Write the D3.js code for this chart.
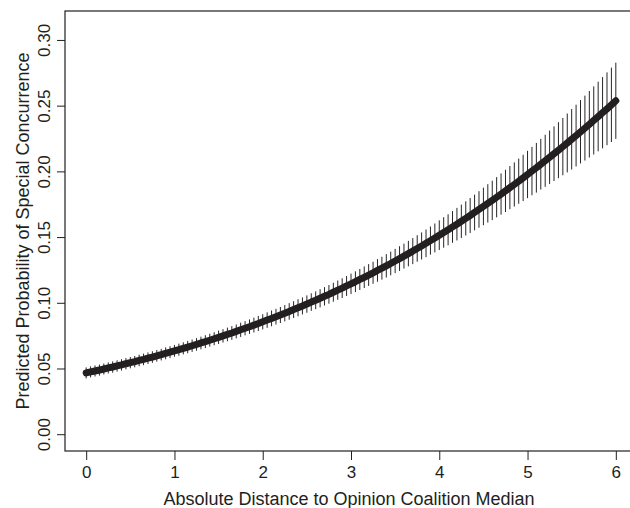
<!DOCTYPE html>
<html>

<head>
    <meta charset="utf-8">
    <title>Predicted Probability of Special Concurrence</title>
    <style>
        body { margin: 0; background: #fff; }
        text { font-family: "Liberation Sans", Arial, Helvetica, sans-serif; fill: #231f20; }
    </style>
</head>

<body>

<main></main>

<script src="https://cdn.jsdelivr.net/npm/d3@7/dist/d3.min.js"></script>
<script>
    // distance values (x), predicted probability and half width of the interval
    var distance = [
        0.00, 0.05, 0.10, 0.15, 0.20, 0.25, 0.30, 0.35, 0.40, 0.45,
        0.50, 0.55, 0.60, 0.65, 0.70, 0.75, 0.80, 0.85, 0.90, 0.95,
        1.00, 1.05, 1.10, 1.15, 1.20, 1.25, 1.30, 1.35, 1.40, 1.45,
        1.50, 1.55, 1.60, 1.65, 1.70, 1.75, 1.80, 1.85, 1.90, 1.95,
        2.00, 2.05, 2.10, 2.15, 2.20, 2.25, 2.30, 2.35, 2.40, 2.45,
        2.50, 2.55, 2.60, 2.65, 2.70, 2.75, 2.80, 2.85, 2.90, 2.95,
        3.00, 3.05, 3.10, 3.15, 3.20, 3.25, 3.30, 3.35, 3.40, 3.45,
        3.50, 3.55, 3.60, 3.65, 3.70, 3.75, 3.80, 3.85, 3.90, 3.95,
        4.00, 4.05, 4.10, 4.15, 4.20, 4.25, 4.30, 4.35, 4.40, 4.45,
        4.50, 4.55, 4.60, 4.65, 4.70, 4.75, 4.80, 4.85, 4.90, 4.95,
        5.00, 5.05, 5.10, 5.15, 5.20, 5.25, 5.30, 5.35, 5.40, 5.45,
        5.50, 5.55, 5.60, 5.65, 5.70, 5.75, 5.80, 5.85, 5.90, 5.95,
        6.00
    ];
    var prob = [
        0.0470, 0.0478, 0.0485, 0.0492, 0.0500, 0.0508, 0.0515, 0.0523, 0.0531, 0.0540,
        0.0548, 0.0556, 0.0565, 0.0573, 0.0582, 0.0591, 0.0600, 0.0609, 0.0619, 0.0628,
        0.0638, 0.0647, 0.0657, 0.0667, 0.0677, 0.0687, 0.0698, 0.0708, 0.0719, 0.0730,
        0.0741, 0.0752, 0.0763, 0.0774, 0.0786, 0.0798, 0.0810, 0.0822, 0.0834, 0.0846,
        0.0859, 0.0872, 0.0885, 0.0898, 0.0911, 0.0924, 0.0938, 0.0952, 0.0966, 0.0980,
        0.0994, 0.1009, 0.1023, 0.1038, 0.1053, 0.1068, 0.1084, 0.1100, 0.1115, 0.1132,
        0.1148, 0.1164, 0.1181, 0.1198, 0.1215, 0.1232, 0.1250, 0.1267, 0.1285, 0.1303,
        0.1322, 0.1340, 0.1359, 0.1378, 0.1397, 0.1417, 0.1436, 0.1456, 0.1477, 0.1497,
        0.1518, 0.1539, 0.1559, 0.1581, 0.1602, 0.1624, 0.1646, 0.1668, 0.1691, 0.1714,
        0.1737, 0.1760, 0.1783, 0.1807, 0.1831, 0.1855, 0.1880, 0.1904, 0.1929, 0.1954,
        0.1980, 0.2006, 0.2031, 0.2058, 0.2084, 0.2111, 0.2138, 0.2165, 0.2192, 0.2220,
        0.2248, 0.2276, 0.2305, 0.2333, 0.2362, 0.2391, 0.2421, 0.2450, 0.2480, 0.2510,
        0.2541
    ];
    var halfWidth = [
        0.0042, 0.0042, 0.0042, 0.0042, 0.0042, 0.0042, 0.0043, 0.0043, 0.0043, 0.0043,
        0.0043, 0.0043, 0.0044, 0.0044, 0.0044, 0.0044, 0.0044, 0.0044, 0.0045, 0.0045,
        0.0045, 0.0046, 0.0046, 0.0047, 0.0047, 0.0048, 0.0048, 0.0049, 0.0049, 0.0050,
        0.0051, 0.0051, 0.0052, 0.0052, 0.0053, 0.0054, 0.0054, 0.0055, 0.0056, 0.0057,
        0.0058, 0.0059, 0.0060, 0.0060, 0.0061, 0.0062, 0.0063, 0.0064, 0.0065, 0.0065,
        0.0066, 0.0067, 0.0068, 0.0069, 0.0070, 0.0071, 0.0072, 0.0073, 0.0075, 0.0076,
        0.0078, 0.0079, 0.0080, 0.0082, 0.0083, 0.0084, 0.0086, 0.0087, 0.0089, 0.0090,
        0.0092, 0.0094, 0.0095, 0.0097, 0.0099, 0.0101, 0.0103, 0.0105, 0.0107, 0.0110,
        0.0113, 0.0116, 0.0118, 0.0121, 0.0124, 0.0127, 0.0130, 0.0133, 0.0136, 0.0139,
        0.0143, 0.0146, 0.0150, 0.0153, 0.0157, 0.0161, 0.0164, 0.0168, 0.0172, 0.0176,
        0.0180, 0.0184, 0.0189, 0.0193, 0.0198, 0.0203, 0.0208, 0.0213, 0.0218, 0.0224,
        0.0230, 0.0235, 0.0241, 0.0247, 0.0253, 0.0259, 0.0265, 0.0271, 0.0277, 0.0283,
        0.0290
    ];

    var xTicks = [0, 1, 2, 3, 4, 5, 6];
    var yTicks = [0.00, 0.05, 0.10, 0.15, 0.20, 0.25, 0.30];

    var width = 630,
        height = 508;
    // plot region (the right edge runs past the window, as in the reference)
    var plotLeft = 65, plotRight = 637, plotTop = 11, plotBottom = 451;

    var svg = d3.select("main").append("svg")
        .attr("width", width).attr("height", height);

    var data = distance.map(function (d, i) {
        return { x: d, p: prob[i], lo: prob[i] - halfWidth[i], hi: prob[i] + halfWidth[i] };
    });

    // R style: range padded by 4% on each side
    var x = d3.scaleLinear().domain([-0.24, 6.24]).range([plotLeft, plotRight]);
    var y = d3.scaleLinear().domain([-0.0124, 0.3224]).range([plotBottom, plotTop]);

    // confidence bars
    svg.append("g").selectAll("line")
        .data(data)
        .enter().append("line")
        .attr("x1", function (d) { return x(d.x); })
        .attr("x2", function (d) { return x(d.x); })
        .attr("y1", function (d) { return y(d.lo); })
        .attr("y2", function (d) { return y(d.hi); })
        .attr("stroke", "#262626")
        .attr("stroke-width", 1);

    // predicted probability
    var line = d3.line()
        .x(function (d) { return x(d.x); })
        .y(function (d) { return y(d.p); });

    svg.append("path")
        .datum(data)
        .attr("d", line)
        .attr("fill", "none")
        .attr("stroke", "#231f20")
        .attr("stroke-width", 7)
        .attr("stroke-linecap", "round")
        .attr("stroke-linejoin", "round");

    // box
    svg.append("rect")
        .attr("x", plotLeft).attr("y", plotTop)
        .attr("width", plotRight - plotLeft).attr("height", plotBottom - plotTop)
        .attr("fill", "none")
        .attr("stroke", "#231f20")
        .attr("stroke-width", 1.2);

    // x axis
    var xAxis = svg.append("g")
        .attr("transform", "translate(0," + plotBottom + ")")
        .call(d3.axisBottom(x).tickValues(xTicks).tickSize(9).tickPadding(6)
            .tickFormat(d3.format("d")));
    xAxis.select(".domain").remove();
    xAxis.selectAll("line").attr("stroke", "#231f20");
    xAxis.selectAll("text")
        .style("font-size", "17px")
        .attr("fill", "#231f20");

    // y axis, labels turned like R's las = 0
    var yAxis = svg.append("g")
        .attr("transform", "translate(" + plotLeft + ",0)")
        .call(d3.axisLeft(y).tickValues(yTicks).tickSize(8).tickFormat(d3.format(".2f")));
    yAxis.select(".domain").remove();
    yAxis.selectAll("line").attr("stroke", "#231f20");
    yAxis.selectAll(".tick").attr("transform", null);
    yAxis.selectAll(".tick line")
        .attr("y1", function (d) { return y(d); })
        .attr("y2", function (d) { return y(d); });
    yAxis.selectAll("text")
        .style("font-size", "17px")
        .attr("fill", "#231f20")
        .attr("x", 0).attr("y", 0).attr("dy", null)
        .attr("text-anchor", "middle")
        .attr("transform", function (d) { return "translate(" + (50 - plotLeft) + "," + y(d) + ") rotate(-90)"; });

    // titles
    svg.append("text")
        .attr("x", (plotLeft + plotRight) / 2 - 2)
        .attr("y", 505)
        .attr("text-anchor", "middle")
        .style("font-size", "18px")
        .text("Absolute Distance to Opinion Coalition Median");

    svg.append("text")
        .attr("transform", "translate(29," + (plotTop + plotBottom) / 2 + ") rotate(-90)")
        .attr("text-anchor", "middle")
        .style("font-size", "18px")
        .text("Predicted Probability of Special Concurrence");
</script>
</body>

</html>
